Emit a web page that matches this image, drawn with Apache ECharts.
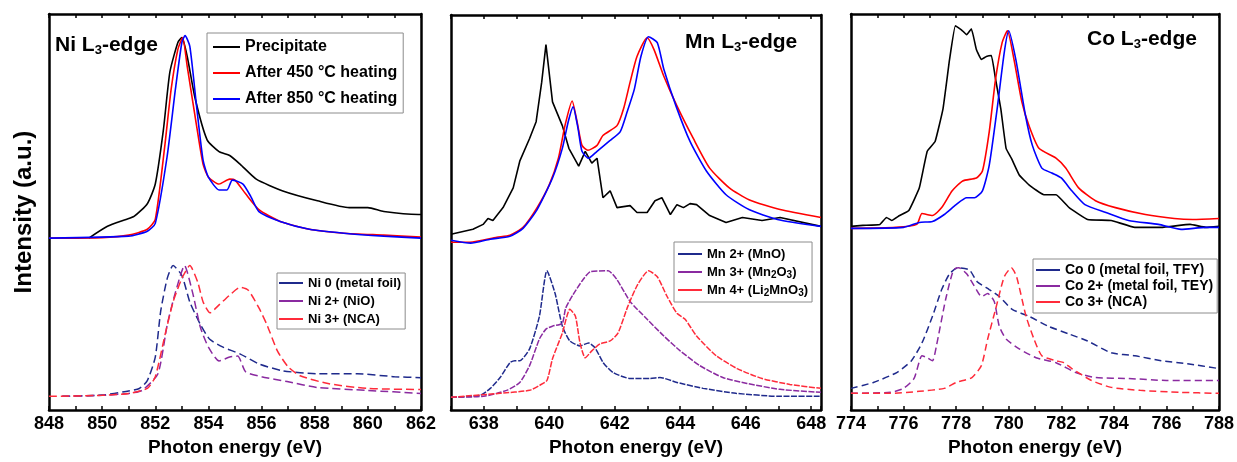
<!DOCTYPE html>
<html><head><meta charset="utf-8">
<script src="https://cdn.jsdelivr.net/npm/echarts@6/dist/echarts.min.js"></script>
<style>html,body{margin:0;padding:0;background:#fff}#c{width:1237px;height:462px}</style>
</head><body><div id="c"></div><script>
// ---------- Ni L3-edge (x: eV, y: a.u.) ----------
const niPrecipitate = [[849.5,175],[850.2,187],[850.9,194],[851.2,197],[851.7,210],[852.0,230],[852.3,284],[852.55,344],[852.85,374],[853.0,379],[853.2,360],[853.5,317],[853.95,275],[854.4,263],[854.8,259],[855.2,250],[855.8,235],[856.8,223],[858.1,213],[859.3,206],[860.0,206],[860.6,202],[861.9,199],[862,199]];
const niHeat450 = [[848,175],[850,175.5],[851,178],[851.7,184],[852.0,194],[852.35,267],[852.6,327],[852.85,367],[853.03,379],[853.2,350],[853.55,290],[853.8,250],[854.0,237],[854.4,230],[854.8,235],[855.0,234],[855.4,220],[855.9,204],[856.7,192],[857.8,184],[859.1,180],[860.6,178],[862,176]];
const niHeat850 = [[848,175],[851,177],[851.7,182],[852.0,190],[852.44,257],[852.76,327],[853.0,374],[853.12,381],[853.3,370],[853.55,310],[853.8,254],[854.0,237],[854.4,224],[854.7,224],[854.9,234],[855.3,230],[855.6,217],[855.9,202],[856.7,192],[857.8,184],[859.1,180],[860.6,177],[862,175]];
const niMetalFoil = [[848.5,14],[850,15.3],[850.9,19],[851.4,22],[851.7,30],[852.0,54],[852.2,100],[852.45,134],[852.67,147],[853.0,137],[853.3,110],[853.7,87],[854.05,72],[854.55,64],[855.2,57],[855.9,47],[856.8,40],[858.1,37],[859.6,37],[861,34],[862,33]];
const niNiO = [[848.5,14],[850,15],[851,17],[851.5,20],[852.1,37],[852.45,87],[852.76,120],[853.1,147],[853.4,120],[853.7,84],[854.0,64],[854.4,50],[854.8,54],[855.1,55],[855.4,39],[856,34],[856.96,29],[858.1,23],[860,20],[862,17]];
const niNCA = [[848,14],[850,15],[851,17],[851.7,22],[852.0,34],[852.37,77],[852.67,110],[853.0,134],[853.3,147],[853.6,130],[853.8,110],[854.06,99],[854.4,107],[854.8,117],[855.2,125],[855.5,122],[855.9,104],[856.2,87],[856.6,60],[857,44],[857.45,35],[858.5,27],[860,22],[862,21]];

// ---------- Mn L3-edge ----------
const mnPrecipitate = [[637.0,178],[637.67,183],[637.98,188],[638.13,194],[638.28,192],[638.59,205],[638.9,225],[639.1,252],[639.4,275],[639.6,292],[639.77,332],[639.9,370],[640.1,312],[640.4,288],[640.6,265],[640.9,247],[641.1,262],[641.3,250],[641.46,255],[641.64,215],[641.86,222],[642.07,205],[642.47,207],[642.68,200],[642.99,200],[643.23,212],[643.44,215],[643.7,198],[643.9,208],[644.1,205],[644.3,209],[644.5,208],[644.9,197],[645.4,190],[645.9,195],[646.5,192],[647.05,195],[648.3,186]];
const mnHeat450 = [[637.0,170],[637.58,170],[638.4,175],[638.8,177],[639.2,185],[639.63,205],[640.0,228],[640.28,255],[640.48,288],[640.7,313],[640.85,292],[641.0,268],[641.18,263],[641.46,268],[641.64,278],[642.07,288],[642.27,305],[642.47,332],[642.68,358],[642.99,377],[643.2,365],[643.5,338],[643.9,308],[644.4,275],[644.9,245],[645.5,225],[646.1,213],[647.05,203],[648.3,195]];
const mnHeat850 = [[637.0,172],[637.6,169],[638.2,173],[638.8,176],[639.2,184],[639.63,203],[640.1,235],[640.4,265],[640.58,292],[640.73,307],[640.88,285],[641.0,262],[641.2,255],[641.46,262],[641.86,273],[642.17,282],[642.38,302],[642.6,325],[642.8,358],[643.03,378],[643.3,372],[643.5,345],[643.87,308],[644.3,272],[644.8,242],[645.4,218],[646.1,203],[646.97,193],[648.3,186]];
const mnMnO = [[637.0,13],[637.89,15],[638.2,22],[638.5,33],[638.8,48],[638.95,50],[639.1,50],[639.4,62],[639.7,95],[639.93,141],[640.18,118],[640.4,85],[640.63,70],[640.94,65],[641.2,68],[641.4,63],[641.65,48],[641.95,38],[642.47,32],[643.08,32],[643.38,33],[643.9,28],[644.7,22],[645.7,17],[647,14],[648.3,14]];
const mnMn2O3 = [[637.0,13],[638.0,14],[638.7,20],[639.1,28],[639.4,45],[639.7,72],[639.9,82],[640.1,85],[640.4,88],[640.5,103],[640.73,117],[641.03,132],[641.25,140],[641.8,141],[642.07,132],[642.47,110],[642.99,92],[643.5,75],[644.0,60],[644.6,45],[645.3,33],[646.04,27],[647.05,21],[648.3,18]];
const mnLi2MnO3 = [[637.0,13],[638.5,17],[639.4,20],[639.7,25],[639.93,30],[640.1,52],[640.4,78],[640.63,102],[640.8,95],[640.94,68],[641.1,53],[641.3,60],[641.55,67],[641.86,70],[642.1,78],[642.4,105],[642.7,127],[643.03,141],[643.3,135],[643.6,115],[643.9,98],[644.15,92],[644.5,75],[645.1,55],[645.74,42],[646.5,32],[647.35,26],[648.3,22]];

// ---------- Co L3-edge ----------
const coPrecipitate = [[774,186],[774.45,187],[775.1,188],[775.35,195],[775.55,192],[775.85,197],[776.2,202],[776.6,225],[776.9,262],[777.2,272],[777.5,305],[777.75,355],[777.97,389],[778.2,385],[778.4,380],[778.58,386],[778.77,365],[778.96,355],[779.15,358],[779.34,359],[779.5,335],[779.7,305],[779.9,265],[780.1,255],[780.4,238],[780.77,228],[781.34,218],[781.8,218],[782.3,205],[783.0,193],[783.9,192],[784.8,185],[785.8,185],[786.9,188],[787.5,185],[788,186]];
const coHeat450 = [[774,184],[775.7,185],[776.5,188],[776.7,199],[777.1,197],[777.45,205],[777.85,222],[778.25,232],[778.77,235],[779.0,242],[779.26,282],[779.5,335],[779.75,372],[779.95,384],[780.2,355],[780.5,312],[780.77,288],[781.15,265],[781.8,255],[782.17,245],[782.66,225],[783.3,212],[784.06,205],[785.2,198],[786.3,194],[787,193],[788,194]];
const coHeat850 = [[774,184],[776,185],[776.6,190],[777.1,191],[777.55,198],[778.0,208],[778.4,215],[778.7,215],[779.0,222],[779.26,248],[779.56,305],[779.83,362],[780.0,384],[780.27,355],[780.64,298],[780.9,268],[781.26,245],[781.64,240],[782.0,235],[782.4,222],[782.9,208],[783.7,200],[784.56,192],[785.7,188],[786.56,183],[787.5,185],[788,185]];
const coMetalTFY = [[774,22],[774.85,28],[775.74,38],[776.3,50],[776.7,68],[777.1,95],[777.45,122],[777.75,138],[778.05,144],[778.5,142],[778.8,130],[779.26,122],[779.64,115],[780.13,102],[780.77,95],[781.5,85],[782.3,77],[783.0,70],[783.9,58],[784.8,55],[785.8,50],[786.8,47],[788,42]];
const coMetalTEY = [[774,17],[775.5,18],[776.0,22],[776.4,32],[776.7,55],[776.9,53],[777.1,50],[777.25,65],[777.6,112],[777.9,142],[778.1,144],[778.4,138],[778.77,122],[778.96,115],[779.2,118],[779.45,110],[779.64,85],[779.9,72],[780.4,62],[781.04,53],[781.8,48],[782.55,38],[783.3,33],[784.56,32],[786,30],[788,30]];
const coNCA = [[774,17],[775.5,17],[776.6,19],[777.55,22],[778.0,28],[778.6,33],[778.96,45],[779.2,72],[779.5,102],[779.83,135],[780.1,144],[780.3,135],[780.66,95],[780.96,72],[781.26,55],[781.8,50],[782.1,48],[782.4,42],[783.15,30],[783.9,23],[785,20],[786.5,18],[788,17]];

// ---------- axis ranges and texts ----------
const xRanges = [[848,862],[637,648.3],[774,788]];
const yMax = [403,400,401];
const titles = ['Ni L{s|3}-edge','Mn L{s|3}-edge','Co L{s|3}-edge'];
const xName = 'Photon energy (eV)';
const yName = 'Intensity (a.u.)';
const upperNames = ['Precipitate','After 450 \u00B0C heating','After 850 \u00B0C heating'];
const niRefNames = ['Ni 0 (metal foil)','Ni 2+ (NiO)','Ni 3+ (NCA)'];
const mnRefNames = ['Mn 2+ (MnO)','Mn 3+ (Mn2O3)','Mn 4+ (Li2MnO3)'];
const coRefNames = ['Co 0 (metal foil, TFY)','Co 2+ (metal foil, TEY)','Co 3+ (NCA)'];

const FONT = 'Arial, "Liberation Sans", sans-serif';
const C = {black:'#000000', red:'#ff0000', blue:'#0000ff', navy:'#1f2a8c', purple:'#8a2aa0', lred:'#ff2b3a'};

const grids = [
  {left:49, top:14, width:372, height:403},
  {left:451, top:15, width:370, height:400},
  {left:851, top:14, width:370, height:401}
];

const frame = {show:true, onZero:false, lineStyle:{color:'#000', width:2.5}};
const xAxes = [], yAxes = [];
xRanges.forEach((r,i)=>{
  const base = {type:'value', gridIndex:i, min:r[0], max:r[1], interval:1, splitLine:{show:false},
    axisLine:frame, axisTick:{show:true, inside:true, length:4, lineStyle:{color:'#000', width:1.5}}};
  xAxes.push(Object.assign({}, base, {position:'bottom',
    axisLabel:{margin:5, color:'#000', fontSize:18, fontWeight:'bold', fontFamily:FONT,
      formatter:v=> (Math.abs(v - Math.round(v))<1e-6 && Math.round(v)%2===0) ? String(Math.round(v)) : ''},
    name:xName, nameLocation:'middle', nameGap:26,
    nameTextStyle:{color:'#000', fontSize:19, fontWeight:'bold', fontFamily:FONT}}));
  xAxes.push(Object.assign({}, base, {position:'top', axisLabel:{show:false}}));
  yAxes.push({type:'value', gridIndex:i, min:0, max:yMax[i], position:'left', axisLine:frame,
    axisTick:{show:false}, axisLabel:{show:false}, splitLine:{show:false},
    name: i===0 ? yName : '', nameLocation:'middle', nameGap:13, nameRotate:90,
    nameTextStyle:{color:'#000', fontSize:24, fontWeight:'bold', fontFamily:FONT}});
  yAxes.push({type:'value', gridIndex:i, min:0, max:yMax[i], position:'right', axisLine:frame,
    axisTick:{show:false}, axisLabel:{show:false}, splitLine:{show:false}});
});

function line(name, data, panel, color, dash, width, smooth){
  return {type:'line', name, data, xAxisIndex:panel*2, yAxisIndex:panel*2, symbol:'none', showSymbol:false,
    smooth: smooth===undefined ? 0.2 : smooth,
    silent:true, lineStyle:{color, width:width||1.6, type: dash || 'solid'}, itemStyle:{color}};
}
const dNi = [8,4], dMn = [6,1.5], dCo = [7,4];
const series = [
  line(niRefNames[0], niMetalFoil, 0, C.navy, dNi, 1.5),
  line(niRefNames[1], niNiO, 0, C.purple, dNi, 1.5),
  line(niRefNames[2], niNCA, 0, C.lred, dNi, 1.5),
  line(upperNames[0], niPrecipitate, 0, C.black),
  line(upperNames[1], niHeat450, 0, C.red),
  line(upperNames[2], niHeat850, 0, C.blue),
  line(mnRefNames[0], mnMnO, 1, C.navy, dMn, 1.5),
  line(mnRefNames[1], mnMn2O3, 1, C.purple, dMn, 1.5),
  line(mnRefNames[2], mnLi2MnO3, 1, C.lred, dMn, 1.5),
  line(upperNames[0], mnPrecipitate, 1, C.black, null, 1.6, false),
  line(upperNames[1], mnHeat450, 1, C.red),
  line(upperNames[2], mnHeat850, 1, C.blue),
  line(coRefNames[0], coMetalTFY, 2, C.navy, dCo, 1.5),
  line(coRefNames[1], coMetalTEY, 2, C.purple, dCo, 1.5),
  line(coRefNames[2], coNCA, 2, C.lred, dCo, 1.5),
  line(upperNames[0], coPrecipitate, 2, C.black, null, 1.6, 0.1),
  line(upperNames[1], coHeat450, 2, C.red),
  line(upperNames[2], coHeat850, 2, C.blue)
];

const subRich = (fs)=>({s:{fontSize:fs, fontWeight:'bold', fontFamily:FONT, color:'#000', lineHeight:8, verticalAlign:'bottom'}});
function legend(names, left, top, pad, itemWidth, fontSize, lineHeight, gap){
  return {data:names, orient:'vertical', left, top, padding:pad, itemWidth, itemHeight:2, itemGap:gap,
    icon:'rect', borderColor:'#8c8c8c', borderWidth:1, selectedMode:false,
    formatter:n=>n.replace(/([A-Za-z])(\d)/g,'$1{s|$2}'),
    textStyle:{color:'#000', fontSize, fontWeight:'bold', fontFamily:FONT, lineHeight, rich:subRich(fontSize-3)}};
}

const titleStyle = {color:'#000', fontSize:21, fontWeight:'bold', fontFamily:FONT, lineHeight:24,
  rich:{s:{fontSize:13, fontWeight:'bold', fontFamily:FONT, color:'#000', lineHeight:10, verticalAlign:'bottom'}}};

const option = {
  animation:false,
  backgroundColor:'#fff',
  title:[
    {text:titles[0], left:55, top:33, padding:0, textStyle:titleStyle},
    {text:titles[1], left:685, top:30, padding:0, textStyle:titleStyle},
    {text:titles[2], left:1087, top:27, padding:0, textStyle:titleStyle}
  ],
  legend:[
    legend(upperNames, 207, 33, [5,6,5,6], 27, 16, 18, 8),
    legend(niRefNames, 277, 273, [3,4,3,2], 24, 13, 14, 4),
    legend(mnRefNames, 674, 242, [4,4,4,4], 24, 13, 16, 2),
    legend(coRefNames, 1033, 259, [3,4,3,3], 24, 14, 16, 0)
  ],
  grid:grids,
  xAxis:xAxes,
  yAxis:yAxes,
  series
};
const chart = echarts.init(document.getElementById('c'), null, {renderer:'canvas'});
chart.setOption(option);
</script></body></html>
